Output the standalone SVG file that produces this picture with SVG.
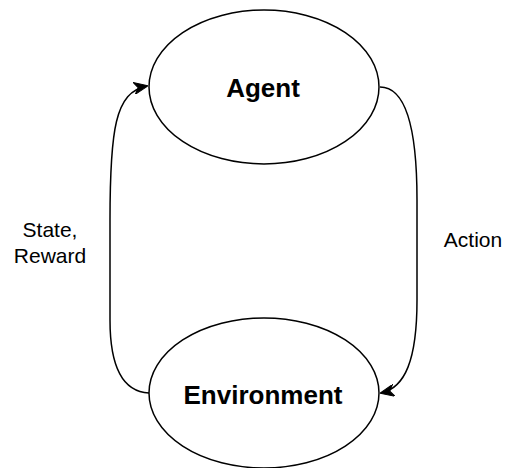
<svg xmlns="http://www.w3.org/2000/svg" width="507" height="468" viewBox="0 0 507 468">
  <style>
    .node { fill: #ffffff; stroke: #000000; stroke-width: 1.5; }
    .title { font-family: "Liberation Sans", Arial, sans-serif; font-size: 26px; font-weight: bold; fill: #000000; text-anchor: middle; dominant-baseline: central; }
    .edge { fill: none; stroke: #000000; stroke-width: 1.5; }
    .label { font-family: "Liberation Sans", Arial, sans-serif; font-size: 21px; fill: #000000; text-anchor: middle; }
  </style>
  <defs>
    <marker id="arrow" viewBox="0 0 14 12" refX="13" refY="6" markerWidth="14" markerHeight="12" markerUnits="userSpaceOnUse" orient="auto">
      <path d="M0,0 L14,6 L0,12 L4,6 Z" fill="#000000" stroke="#000000" stroke-width="1"/>
    </marker>
  </defs>
  <rect width="507" height="468" fill="#ffffff"/>

  <g id="connectors">
    <!-- Environment -> Agent (State, Reward) -->
    <path class="edge" d="M149,393 C128,392 110,375 110,320 L110,220 C110,130 115,92 147,86" marker-end="url(#arrow)"/>
    <!-- Agent -> Environment (Action) -->
    <path class="edge" d="M380,87 C403,87 417,120 417,200 L417,300 C417,360 405,388 381,393" marker-end="url(#arrow)"/>
  </g>

  <g id="agent">
    <ellipse class="node" cx="264" cy="87" rx="115" ry="77"/>
    <text class="title" x="263" y="88">Agent</text>
  </g>

  <g id="environment">
    <ellipse class="node" cx="264" cy="393" rx="115" ry="75"/>
    <text class="title" x="263" y="395">Environment</text>
  </g>

  <g id="labels">
    <text class="label" x="50" y="237">State,</text>
    <text class="label" x="50" y="263">Reward</text>
    <text class="label" x="473" y="247">Action</text>
  </g>
</svg>
